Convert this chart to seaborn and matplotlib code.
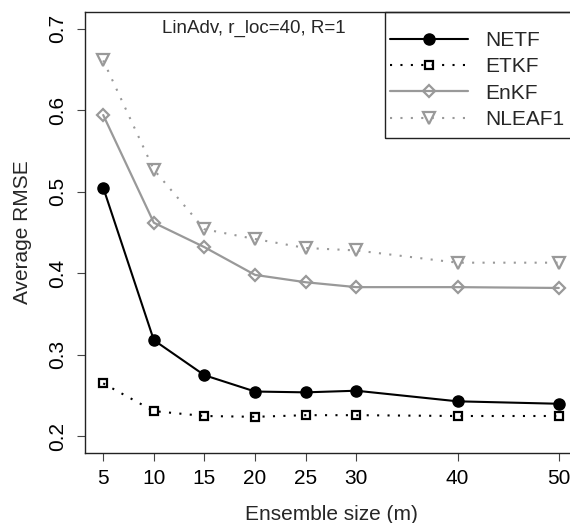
import matplotlib
matplotlib.use("Agg")
import matplotlib.pyplot as plt
from matplotlib.patches import Rectangle
import seaborn as sns

# Ensemble sizes and average RMSE per filter
ensemble_size = [5, 10, 15, 20, 25, 30, 40, 50]
netf = [0.505, 0.318, 0.275, 0.255, 0.254, 0.256, 0.243, 0.240]
etkf = [0.265, 0.231, 0.225, 0.224, 0.226, 0.226, 0.225, 0.225]
enkf = [0.594, 0.462, 0.432, 0.398, 0.389, 0.383, 0.383, 0.382]
nleaf1 = [0.661, 0.527, 0.454, 0.442, 0.431, 0.428, 0.413, 0.413]

x_ticks = [5, 10, 15, 20, 25, 30, 40, 50]
y_ticks = [0.2, 0.3, 0.4, 0.5, 0.6, 0.7]
y_tick_labels = ["0.2", "0.3", "0.4", "0.5", "0.6", "0.7"]
series_names = ["NETF", "ETKF", "EnKF", "NLEAF1"]
subtitle = "LinAdv, r_loc=40, R=1"

sns.set_style("ticks")
plt.rcParams["font.family"] = ["Liberation Sans", "DejaVu Sans"]

GRAY = "#999999"
DOT = (0, (1, 4))

fig = plt.figure(figsize=(5.7, 5.23), dpi=100)
ax = fig.add_axes([85 / 570, (523 - 452.7) / 523, 492 / 570, 440.4 / 523])

sns.lineplot(x=ensemble_size, y=netf, ax=ax, color="black", lw=1.5,
             marker="o", markersize=8, markerfacecolor="black",
             markeredgecolor="black", markeredgewidth=1, label=series_names[0])
sns.lineplot(x=ensemble_size, y=etkf, ax=ax, color="black", lw=1.5,
             linestyle=DOT, marker="s", markersize=6.2, markerfacecolor="none",
             markeredgecolor="black", markeredgewidth=1.6, label=series_names[1])
sns.lineplot(x=ensemble_size, y=enkf, ax=ax, color=GRAY, lw=1.6,
             marker="D", markersize=6.4, markerfacecolor="none",
             markeredgecolor=GRAY, markeredgewidth=1.6, label=series_names[2])
sns.lineplot(x=ensemble_size, y=nleaf1, ax=ax, color=GRAY, lw=1.5,
             linestyle=DOT, marker="v", markersize=8, markerfacecolor="none",
             markeredgecolor=GRAY, markeredgewidth=1.6, label=series_names[3])

ax.set_xlim(3.2, 51.8)
ax.set_ylim(0.18, 0.72)
ax.set_xticks(x_ticks)
ax.set_xticklabels([str(v) for v in x_ticks])
ax.set_yticks(y_ticks)
ax.set_yticklabels(y_tick_labels, rotation=90, va="center")

for side in ["left", "bottom", "top", "right"]:
    ax.spines[side].set_visible(True)
    ax.spines[side].set_color("#222222")
    ax.spines[side].set_linewidth(1.0)

ax.tick_params(axis="both", direction="out", length=5.8, width=0.8,
               color="#444444", labelsize=15, labelcolor="black")
ax.tick_params(axis="x", pad=6.2)
ax.tick_params(axis="y", pad=7.4)

ax.set_xlabel("Ensemble size (m)", fontsize=15, labelpad=12.3)
ax.set_ylabel("Average RMSE", fontsize=15, labelpad=11)

ax.text(0.3435, 0.9637, subtitle, transform=ax.transAxes, ha="center",
        va="center", fontsize=13.5)

leg = ax.legend(loc="upper left", bbox_to_anchor=(0.6199, 0.9576),
                frameon=False, fontsize=15, borderpad=0, borderaxespad=0,
                handlelength=3.75, handletextpad=0.8, labelspacing=0.35)

# Legend box, open towards the right edge
ax.add_patch(Rectangle((0.6098, 0.7146), 0.45, 0.2854, transform=ax.transAxes,
                       fill=False, edgecolor="#222222", lw=1.0, clip_on=False))

fig.savefig("out.png", dpi=100)
